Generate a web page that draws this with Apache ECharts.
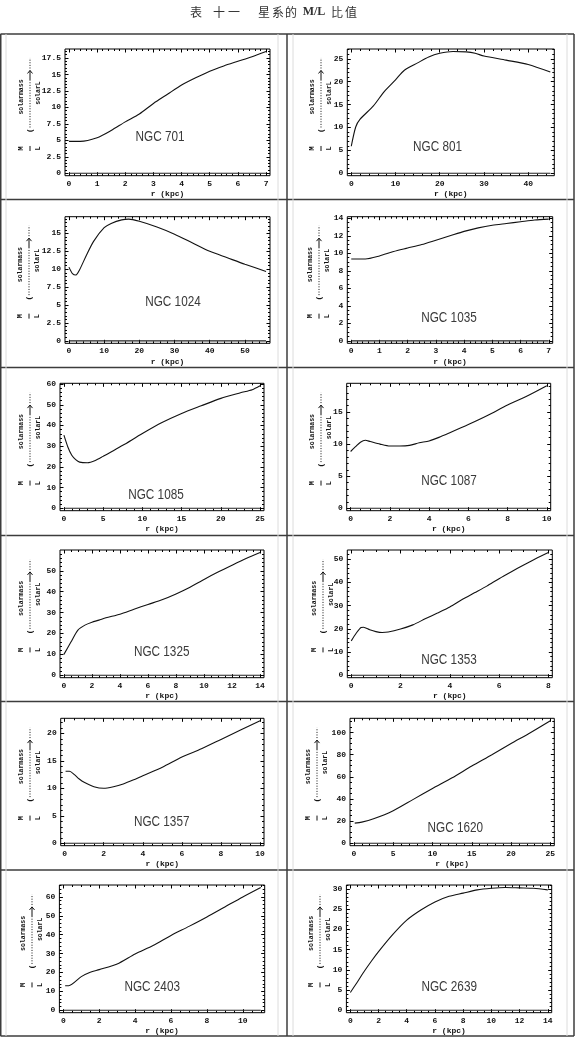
<!DOCTYPE html>
<html><head><meta charset="utf-8">
<script src="https://cdn.jsdelivr.net/npm/echarts@6/dist/echarts.min.js"></script>
<style>html,body{margin:0;padding:0;background:#fff}#c{width:575px;height:1058px}</style>
</head><body><div id="c"></div>
<script>
// ---------------- data ----------------
const galaxyNames = ['NGC 701','NGC 801','NGC 1024','NGC 1035','NGC 1085','NGC 1087','NGC 1325','NGC 1353','NGC 1357','NGC 1620','NGC 2403','NGC 2639'];

const r701  = [0,0.4,1,1.5,2,2.5,3,3.5,4,4.5,5,5.5,6,6.5,7];
const ml701 = [4.85,4.85,5.4,6.5,7.8,9.0,10.6,12.0,13.4,14.5,15.5,16.3,17.0,17.7,18.5];
const r801  = [0,1,2,5,7.5,10,12,15,17.5,20,23,26,28,30,35,40,45];
const ml801 = [5.9,10.1,11.8,14.7,17.9,20.4,22.5,24.1,25.4,26.2,26.6,26.5,26.2,25.6,24.7,23.75,22.1];
const r1024  = [0,1,2,3,5,7,10,12,15,17,20,25,30,35,40,45,50,56];
const ml1024 = [10.3,9.4,9.2,9.9,12.0,13.9,15.8,16.4,16.9,17.0,16.7,15.9,14.9,13.7,12.5,11.6,10.7,9.7];
const r1035  = [0,0.5,1,1.5,2,2.5,3,3.5,4,4.5,5,5.5,6,6.5,7];
const ml1035 = [9.35,9.35,9.7,10.2,10.6,11.0,11.5,12.0,12.5,12.9,13.2,13.4,13.6,13.8,13.9];
const r1085  = [0,0.5,1,1.5,2,3,4,5,6,7.5,10,12.5,15,17.5,20,22.5,24,25];
const ml1085 = [35.3,29.6,25.6,23.5,22.3,22.0,23.1,25.1,27.2,30.4,36.1,41.4,45.8,49.5,53.1,55.8,57.3,59.2];
const r1087  = [0,0.25,0.5,0.75,1,1.5,2,2.5,3,3.5,4,4.5,5,6,7,8,9,10];
const ml1087 = [8.85,9.6,10.3,10.6,10.4,10.0,9.7,9.7,9.8,10.2,10.5,11.05,11.7,13.05,14.5,16.1,17.5,19.1];
const r1325  = [0,0.5,1,1.5,2,2.5,3,4,5,6,7,8,9,10,11,12,13,14];
const ml1325 = [10.0,15.9,21.6,24.0,25.4,26.4,27.5,29.2,31.6,33.9,36.1,38.9,42.1,45.9,49.4,52.7,55.9,58.8];
const r1353  = [0,0.2,0.4,0.5,0.75,1,1.25,1.5,2,2.5,3,3.5,4,4.5,5,5.5,6,6.5,7,7.5,8];
const ml1353 = [14.8,18.1,20.6,20.7,19.6,18.8,18.4,18.6,19.9,21.7,24.3,26.8,29.4,32.6,35.5,38.4,41.6,44.6,47.5,50.3,52.9];
const r1357  = [0.05,0.25,0.5,0.75,1,1.5,2,2.5,3,3.5,4,5,6,7,8,9,10];
const ml1357 = [13.1,13.1,12.5,11.7,11.1,10.3,10.0,10.3,10.8,11.5,12.3,13.85,15.7,17.2,18.9,20.6,22.3];
const r1620  = [0.1,1,2.5,5,7.5,10,12.5,15,17.5,20,22.5,25];
const ml1620 = [18.2,19.1,22.1,29.4,39.4,49.4,59.1,69.7,79.7,90.0,100.0,110.6];
const r2403  = [0.1,0.3,1,1.5,2,3,4,5,6,7,8,9,10,11];
const ml2403 = [13.0,13.0,17.8,20.1,21.5,24.5,29.8,34.3,39.6,44.4,49.4,54.7,60.0,65.0];
const r2639  = [0,0.5,1,1.5,2,3,4,5,6,7,8,9,10,11,12,13,14];
const ml2639 = [4.4,7.0,9.7,12.2,14.5,18.7,22.3,24.8,26.8,28.2,29.0,29.8,30.2,30.4,30.3,30.2,29.8];

// tick labels
const xTicks701 = [0,1,2,3,4,5,6,7],          yTicks701 = [0,2.5,5,7.5,10,12.5,15,17.5];
const xTicks801 = [0,10,20,30,40],            yTicks801 = [0,5,10,15,20,25];
const xTicks1024 = [0,10,20,30,40,50],        yTicks1024 = [0,2.5,5,7.5,10,12.5,15];
const xTicks1035 = [0,1,2,3,4,5,6,7],         yTicks1035 = [0,2,4,6,8,10,12,14];
const xTicks1085 = [0,5,10,15,20,25],         yTicks1085 = [0,10,20,30,40,50,60];
const xTicks1087 = [0,2,4,6,8,10],            yTicks1087 = [0,5,10,15];
const xTicks1325 = [0,2,4,6,8,10,12,14],      yTicks1325 = [0,10,20,30,40,50,60];
const xTicks1353 = [0,2,4,6,8],               yTicks1353 = [0,10,20,30,40,50];
const xTicks1357 = [0,2,4,6,8,10],            yTicks1357 = [0,5,10,15,20];
const xTicks1620 = [0,5,10,15,20,25],         yTicks1620 = [0,20,40,60,80,100];
const xTicks2403 = [0,2,4,6,8,10],            yTicks2403 = [0,10,20,30,40,50,60];
const xTicks2639 = [0,2,4,6,8,10,12,14],      yTicks2639 = [0,5,10,15,20,25,30];

const xRangeMax = [7,45,56,7,25,10,14,8,10,25,11,14];

const xAxisName = 'r (kpc)';

// ---------------- assembly ----------------
const panels = [
  [r701, ml701, xTicks701, yTicks701],
  [r801, ml801, xTicks801, yTicks801],
  [r1024, ml1024, xTicks1024, yTicks1024],
  [r1035, ml1035, xTicks1035, yTicks1035],
  [r1085, ml1085, xTicks1085, yTicks1085],
  [r1087, ml1087, xTicks1087, yTicks1087],
  [r1325, ml1325, xTicks1325, yTicks1325],
  [r1353, ml1353, xTicks1353, yTicks1353],
  [r1357, ml1357, xTicks1357, yTicks1357],
  [r1620, ml1620, xTicks1620, yTicks1620],
  [r2403, ml2403, xTicks2403, yTicks2403],
  [r2639, ml2639, xTicks2639, yTicks2639]
];

// layout: frame [left, top, right, bottom], galaxy label centre, y-title centre x
const frames = [
  [65,49,270,175.7],[347.3,49,554.3,175.7],
  [65,216.7,270,343.3],[347.3,216.7,552.7,343.3],
  [60,383.3,264,510.7],[346.7,383.3,550.7,510.7],
  [60,550,264,677.7],[347.3,550,552.3,677.7],
  [60.7,718.3,264,845.7],[350,718.3,554.3,845.7],
  [59.4,885,264.7,1012.7],[346.4,885,551.7,1012.7]
];
const nameLabelPos = [
  [160,136.7],[437.5,146.7],[173,301.7],[449,317.7],[156,495],[449,481],
  [161.7,651.7],[449,660],[161.7,821.7],[455.3,828.3],[152.2,987.3],[449.2,986.7]
];
const yTitleX = [30,321,29,319,30,321,30,323,30,317,32,320];

function minorTicks(ticks, lo, hi) {
  const step = ticks[1] - ticks[0];
  const mant = step / Math.pow(10, Math.floor(Math.log10(step)) );
  const sub = Math.abs(mant - 2) < 1e-9 ? 4 : 5;
  const m = step / sub;
  const out = [];
  for (let v = Math.ceil(lo / m) * m; v <= hi + 1e-9; v += m) {
    const r = Math.round(v * 1e6) / 1e6;
    if (!ticks.some(t => Math.abs(t - r) < 1e-6)) out.push(r);
  }
  return out;
}

const monoFont = '"Liberation Mono", "DejaVu Sans Mono", monospace';
const grids = [], xAxes = [], yAxes = [], series = [], graphics = [];

panels.forEach((p, i) => {
  const [xs, ys, xt, yt] = p;
  const [L, T, R, B] = frames[i];
  const xMax = xRangeMax[i];
  const yMax = Math.max.apply(null, ys);
  const xlo = -0.02 * xMax, xhi = xMax * 1.02;
  const ylo = -0.02 * yMax, yhi = yMax * 1.02;
  const xm = minorTicks(xt, xlo, xhi), ym = minorTicks(yt, ylo, yhi);

  grids.push({left: L, top: T, width: R - L, height: B - T, show: true,
    borderColor: '#000', borderWidth: 1, backgroundColor: 'transparent',
    containLabel: false, outerBoundsMode: 'none'});

  const lblStyle = {fontFamily: monoFont, fontWeight: 'bold', fontSize: 8, color: '#111'};
  const mkAxis = (dim, pos, ticks, len, labels) => {
    const lo = dim === 'x' ? xlo : ylo, hi = dim === 'x' ? xhi : yhi;
    const a = {gridIndex: i, type: 'value', position: pos, min: lo, max: hi,
      splitLine: {show: false}, axisLine: {show: false, onZero: false},
      axisTick: {show: true, inside: true, length: len, customValues: ticks,
                 lineStyle: {color: '#000', width: 1}},
      axisLabel: labels ? Object.assign({show: true, customValues: ticks, margin: 4,
                 formatter: v => String(v)}, lblStyle) : {show: false}};
    if (labels && dim === 'x') {
      a.name = xAxisName; a.nameLocation = 'middle'; a.nameGap = 14.5;
      a.nameTextStyle = {fontFamily: monoFont, fontWeight: 'bold', fontSize: 8, color: '#111'};
    }
    return a;
  };
  xAxes.push(mkAxis('x', 'bottom', xt, 3.5, true), mkAxis('x', 'bottom', xm, 2, false),
             mkAxis('x', 'top', xt, 3.5, false), mkAxis('x', 'top', xm, 2, false));
  yAxes.push(mkAxis('y', 'left', yt, 3.5, true), mkAxis('y', 'left', ym, 2, false),
             mkAxis('y', 'right', yt, 3.5, false), mkAxis('y', 'right', ym, 2, false));

  series.push({type: 'line', xAxisIndex: 4 * i, yAxisIndex: 4 * i,
    data: xs.map((v, k) => [v, ys[k]]), symbol: 'none', smooth: 0.25,
    lineStyle: {color: '#111', width: 1.1}, silent: true});
  series.push({type: 'line', xAxisIndex: 4 * i, yAxisIndex: 4 * i,
    data: [[0, 0], [xMax, 0]], symbol: 'none',
    lineStyle: {color: '#222', width: 1.2}, silent: true});

  // galaxy name
  graphics.push({type: 'text', x: nameLabelPos[i][0], y: nameLabelPos[i][1], scaleX: 0.84, silent: true,
    style: {text: galaxyNames[i], fontFamily: '"Liberation Sans", Arial, sans-serif',
      fontSize: 14, fill: '#3a3a3a', align: 'center', verticalAlign: 'middle'}});

  // rotated y title:  M/L (solarmass / solarL)
  const cy = T + 0.43 * (B - T);
  const tStyle = (txt, size) => ({text: txt, fontFamily: monoFont, fontWeight: 'bold', fontSize: size,
    fill: '#111', align: 'center', verticalAlign: 'middle'});
  graphics.push({type: 'group', x: yTitleX[i], y: cy, rotation: Math.PI / 2, silent: true, children: [
    {type: 'text', x: -45, y: -8.5, style: tStyle('M', 7)},
    {type: 'line', shape: {x1: -47.5, y1: 0, x2: -42.5, y2: 0}, style: {stroke: '#111', lineWidth: 1}},
    {type: 'text', x: -45, y: 8.5, style: tStyle('L', 7)},
    {type: 'text', x: -27, y: 0, style: tStyle('(', 8)},
    {type: 'text', x: 6.5, y: -8.5, style: tStyle('solarmass', 6.5)},
    {type: 'text', x: 10.5, y: 8.5, style: tStyle('solarL', 6.5)},
    {type: 'line', shape: {x1: -24, y1: 0, x2: 23, y2: 0}, style: {stroke: '#111', lineWidth: 1, lineDash: [1, 1.6]}},
    {type: 'line', shape: {x1: 23, y1: 0, x2: 33, y2: 0}, style: {stroke: '#111', lineWidth: 1}},
    {type: 'polyline', shape: {points: [[30, -2.5], [33, 0], [30, 2.5]]}, style: {stroke: '#111', lineWidth: 1, fill: null}},
    {type: 'line', shape: {x1: 35, y1: 0, x2: 45.5, y2: 0}, style: {stroke: '#111', lineWidth: 1, lineDash: [1, 1.6]}}
  ]});
});

// table borders
const rowLines = [34, 199.5, 367.5, 535.5, 701.5, 870, 1036];
rowLines.forEach(y => graphics.push({type: 'line', silent: true,
  shape: {x1: 0.5, y1: y, x2: 574, y2: y}, style: {stroke: '#3c3c3c', lineWidth: 1.5}}));
[0.75, 287, 574].forEach(x => graphics.push({type: 'line', silent: true,
  shape: {x1: x, y1: 34, x2: x, y2: 1036}, style: {stroke: '#3c3c3c', lineWidth: 1.5}}));
[6, 278, 293, 567].forEach(x => graphics.push({type: 'line', silent: true,
  shape: {x1: x, y1: 34, x2: x, y2: 1036}, style: {stroke: '#dcdcdc', lineWidth: 1}}));

// title
const titleParts = [['表',196],['十',219],['一',234],['星',264],['系',278],['的',291]];
titleParts.forEach(([t, x]) => graphics.push({type: 'text', x: x, y: 12, silent: true,
  style: {text: t, fontFamily: '"Noto Sans CJK TC", sans-serif', fontSize: 12, fill: '#333',
    align: 'center', verticalAlign: 'middle'}}));
graphics.push({type: 'text', x: 314, y: 12, silent: true, style: {text: 'M/L',
  fontFamily: '"Liberation Serif", serif', fontWeight: 'bold', fontSize: 12, fill: '#333', align: 'center', verticalAlign: 'middle'}});
[['比',337],['值',351]].forEach(([t, x]) => graphics.push({type: 'text', x: x, y: 12, silent: true,
  style: {text: t, fontFamily: '"Noto Sans CJK TC", sans-serif', fontSize: 12, fill: '#333',
    align: 'center', verticalAlign: 'middle'}}));

const chart = echarts.init(document.getElementById('c'), null, {renderer: 'canvas'});
chart.setOption({
  animation: false,
  backgroundColor: '#fff',
  grid: grids, xAxis: xAxes, yAxis: yAxes, series: series, graphic: graphics
});
</script></body></html>
